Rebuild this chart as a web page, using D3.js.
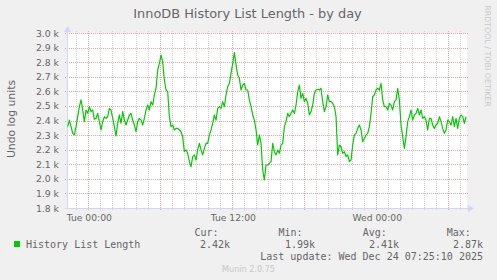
<!DOCTYPE html>
<html>
<head>
<meta charset="utf-8">
<script src="https://cdn.jsdelivr.net/npm/d3@7"></script>
<style>
  html, body { margin: 0; padding: 0; background: #f0f0f0; }
  svg { display: block; }
  text { fill: #666666; }
</style>
</head>
<body>
<svg id="chart" width="497" height="280"></svg>
<script>
// samples, one every 500 s (rrd step)
const historyValues = [
  2358, 2403, 2358, 2312, 2301, 2358, 2426, 2495, 2541, 2472, 2392, 2472, 2449, 2495, 2461, 2472,
  2408, 2415, 2449, 2392, 2335, 2392, 2426, 2415, 2426, 2483, 2472, 2415, 2358, 2294, 2381, 2438,
  2381, 2461, 2403, 2369, 2403, 2438, 2449, 2403, 2369, 2323, 2392, 2415, 2403, 2369, 2415, 2472,
  2506, 2472, 2529, 2506, 2575, 2621, 2746, 2792, 2849, 2803, 2678,
  2609, 2598, 2426, 2358, 2369, 2335, 2346, 2346, 2335, 2323, 2289, 2186, 2198, 2175, 2118, 2083,
  2152, 2164, 2129, 2198, 2243, 2198, 2164, 2209, 2243, 2243, 2301, 2335, 2381, 2438, 2403, 2483,
  2495, 2483, 2529, 2495, 2575, 2632, 2655, 2723, 2792, 2865, 2781, 2712, 2689, 2609, 2643, 2655,
  2609, 2609, 2541, 2495, 2438, 2403, 2335, 2232, 2301, 2243, 2061, 1992,
  2095, 2095, 2106, 2118, 2243, 2186, 2164, 2198, 2175, 2232, 2243, 2358, 2392, 2449, 2426, 2449,
  2472, 2449, 2506, 2598, 2643, 2552, 2586, 2529, 2552, 2518, 2438, 2461, 2506, 2586, 2609, 2614,
  2609, 2621, 2529, 2461, 2495, 2575, 2529, 2529, 2518, 2495, 2426, 2164, 2232, 2220, 2175, 2186,
  2152, 2164, 2118, 2129, 2232, 2301, 2312, 2346, 2369, 2335, 2255, 2278,
  2301, 2312, 2358, 2449, 2563, 2575, 2609, 2621, 2609, 2655, 2541, 2495, 2495, 2472, 2518, 2506,
  2472, 2529, 2541, 2621, 2541, 2369, 2289, 2209, 2289, 2392, 2426, 2472, 2403, 2438, 2449, 2483,
  2438, 2472, 2415, 2426, 2403, 2335, 2415, 2415, 2369, 2346, 2369, 2381, 2426, 2392, 2346, 2312,
  2335, 2403, 2392, 2369, 2426, 2358, 2415, 2346, 2415, 2438, 2426, 2381, 2426
];
const stepSeconds = 500;
const firstSample = new Date(Date.UTC(2025, 11, 22, 22, 17, 0));
const viewStart = new Date(Date.UTC(2025, 11, 22, 22, 13, 30));
const viewEnd = new Date(viewStart.getTime() + 2000 * 60 * 1000);

const yTicks = [1800, 1900, 2000, 2100, 2200, 2300, 2400, 2500, 2600, 2700, 2800, 2900, 3000];
const title = "InnoDB History List Length - by day";
const yTitle = "Undo log units";
const seriesName = "History List Length";
const statNames = ["Cur:", "Min:", "Avg:", "Max:"];
const statValues = ["2.42k", "1.99k", "2.41k", "2.87k"];
const lastUpdate = "Last update: Wed Dec 24 07:25:10 2025";
const version = "Munin 2.0.75";

const pl = 67, pt = 33, w = 400, h = 175;
const majorColor = "#f3a0a0", minorColor = "#d0d0d0", axisColor = "#cfd6f8";
const svg = d3.select("#chart");

const x = d3.scaleUtc().domain([viewStart, viewEnd]).range([pl, pl + w]);
const y = d3.scaleLinear().domain([1800, 3000]).range([pt + h, pt]);

svg.append("rect").attr("width", 497).attr("height", 280).attr("fill", "#f0f0f0");
svg.append("rect").attr("x", pl).attr("y", pt).attr("width", w).attr("height", h).attr("fill", "#ffffff");

const grid = svg.append("g").attr("shape-rendering", "crispEdges");

// minor vertical grid, every hour
const hours = d3.utcHour.range(viewStart, viewEnd);
grid.append("g").selectAll("line")
  .data(hours.filter(d => d.getUTCHours() % 6 !== 0))
  .join("line")
  .attr("x1", d => Math.round(x(d)) + 0.5).attr("x2", d => Math.round(x(d)) + 0.5)
  .attr("y1", pt - 2).attr("y2", pt + h + 2)
  .attr("stroke", minorColor).attr("stroke-dasharray", "1,1");

// horizontal grid
grid.append("g").selectAll("line")
  .data(yTicks)
  .join("line")
  .attr("x1", pl - 2).attr("x2", pl + w + 1)
  .attr("y1", d => Math.round(y(d)) + 0.5).attr("y2", d => Math.round(y(d)) + 0.5)
  .attr("stroke", majorColor).attr("stroke-dasharray", "1,1");

// major vertical grid, every 6 hours
grid.append("g").selectAll("line")
  .data(hours.filter(d => d.getUTCHours() % 6 === 0))
  .join("line")
  .attr("x1", d => Math.round(x(d)) + 0.5).attr("x2", d => Math.round(x(d)) + 0.5)
  .attr("y1", pt - 2).attr("y2", pt + h + 3)
  .attr("stroke", majorColor).attr("stroke-dasharray", "1,1");

// axes
grid.append("line").attr("x1", pl + 0.5).attr("x2", pl + 0.5)
  .attr("y1", pt - 2).attr("y2", pt + h + 1).attr("stroke", axisColor);
grid.append("line").attr("x1", pl - 2).attr("x2", pl + w + 2)
  .attr("y1", pt + h + 0.5).attr("y2", pt + h + 0.5).attr("stroke", axisColor);
svg.append("path").attr("d", `M${pl - 3},${pt - 1}L${pl + 4},${pt - 1}L${pl + 0.5},${pt - 7}Z`)
  .attr("fill", axisColor);
svg.append("path").attr("d", `M${pl + w + 1},${pt + h - 3}L${pl + w + 1},${pt + h + 4}L${pl + w + 7},${pt + h + 0.5}Z`)
  .attr("fill", axisColor);

// y labels
svg.append("g").selectAll("text")
  .data(yTicks)
  .join("text")
  .attr("x", 59).attr("y", d => y(d) + 3.5)
  .attr("text-anchor", "end")
  .style("font", "9.3px 'DejaVu Sans'")
  .text(d => d3.format(".1f")(d / 1000) + " k");

// x labels
const fmt = d3.utcFormat("%a %H:%M");
svg.append("g").selectAll("text")
  .data(hours.filter(d => d.getUTCHours() % 12 === 0))
  .join("text")
  .attr("x", d => x(d) + 1).attr("y", 221)
  .attr("text-anchor", "middle")
  .style("font", "9.2px 'DejaVu Sans'")
  .text(fmt);

// series
const line = d3.line()
  .x((d, i) => x(new Date(firstSample.getTime() + i * stepSeconds * 1000)))
  .y(d => y(d));
svg.append("path")
  .datum(historyValues)
  .attr("d", line)
  .attr("fill", "none")
  .attr("stroke", "#00cc00")
  .attr("stroke-width", 1.2)
  .attr("stroke-linejoin", "round");

// titles
svg.append("text").attr("x", 247.5).attr("y", 18).attr("text-anchor", "middle")
  .style("font", "12.9px 'DejaVu Sans'").text(title);
svg.append("text").attr("transform", "translate(15,119) rotate(-90)").attr("text-anchor", "middle")
  .style("font", "10.8px 'DejaVu Sans'").text(yTitle);
svg.append("text").attr("transform", "translate(485,56) rotate(90)").attr("text-anchor", "middle")
  .style("font", "7.9px 'DejaVu Sans'").style("fill", "#c8c8c8").text("RRDTOOL / TOBI OETIKER");

// legend
const mono = "10px 'DejaVu Sans Mono'";
svg.append("rect").attr("x", 14).attr("y", 241).attr("width", 6).attr("height", 6).attr("fill", "#00cc00");
svg.append("text").attr("x", 26).attr("y", 248).style("font", mono).text(seriesName);
const headX = [194.5, 278.5, 362.7, 446.7];
const valEnd = [230, 315, 399, 483];
svg.append("g").selectAll("text").data(statNames).join("text")
  .attr("x", (d, i) => headX[i]).attr("y", 236).style("font", mono).text(d => d);
svg.append("g").selectAll("text").data(statValues).join("text")
  .attr("x", (d, i) => valEnd[i]).attr("y", 248).attr("text-anchor", "end").style("font", mono).text(d => d);
svg.append("text").attr("x", 483).attr("y", 260).attr("text-anchor", "end").style("font", mono).text(lastUpdate);
svg.append("text").attr("x", 248.5).attr("y", 272).attr("text-anchor", "middle")
  .style("font", "8.1px 'DejaVu Sans'").style("fill", "#c8c8c8").text(version);
</script>
</body>
</html>
